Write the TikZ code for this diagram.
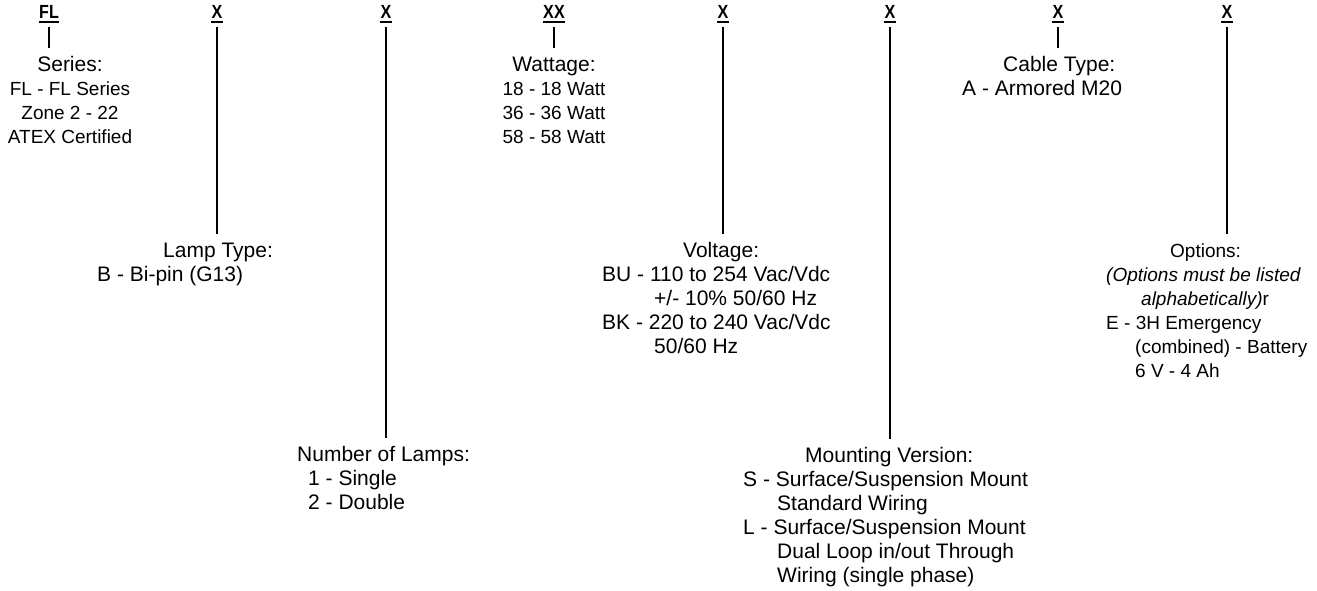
\documentclass[tikz,border=0pt]{standalone}
\usepackage{fontspec}
\setmainfont{Liberation Sans}
\usepackage{graphicx}
\newcommand\codetxt[1]{\scalebox{0.85}[1]{\bfseries #1}}
\newcommand\ttl[1]{{\fontsize{21}{24}\selectfont #1}}
\tikzset{
  code/.style={anchor=base, inner sep=0pt, font=\fontsize{19}{22}\selectfont},
  desc/.style={inner sep=0pt, font=\fontsize{21}{24}\selectfont},
  descsm/.style={inner sep=0pt, font=\fontsize{19}{24}\selectfont},
  uline/.style={line width=1.4pt},
  conn/.style={line width=1.2pt, shorten <=8.5pt, shorten >=6.5pt},
}
\begin{document}
\begin{tikzpicture}[x=1pt,y=-1pt]
\useasboundingbox (0,0) rectangle (1317,590);
% code headers
\node[code] (hFL) at (49,18.5) {\codetxt{FL}};
\node[code] (hA) at (217,18.5) {\codetxt{X}};
\node[code] (hB) at (386,18.5) {\codetxt{X}};
\node[code] (hC) at (554,18.5) {\codetxt{XX}};
\node[code] (hD) at (723,18.5) {\codetxt{X}};
\node[code] (hE) at (890,18.5) {\codetxt{X}};
\node[code] (hF) at (1058,18.5) {\codetxt{X}};
\node[code] (hG) at (1227,18.5) {\codetxt{X}};
\foreach \n in {hFL,hA,hB,hC,hD,hE,hF,hG}{
  \draw[uline] ([yshift=-3.5pt]\n.base west) -- ([yshift=-3.5pt]\n.base east);
}
% descriptions
\node[descsm, anchor=north, align=center] (series) at (70,54.2)
  {\strut\ttl{Series:}\\FL - FL Series\\Zone 2 - 22\\ATEX Certified};
\node[descsm, anchor=north, align=center] (watt) at (554,54.2)
  {\strut\ttl{Wattage:}\\18 - 18 Watt\\36 - 36 Watt\\58 - 58 Watt};
\node[desc, anchor=north west, align=left] (cable) at (962,54.2)
  {\strut\hspace*{41pt}Cable Type:\\A - Armored M20};
\node[desc, anchor=north west, align=left] (lamp) at (97,240.2)
  {\strut\hspace*{66pt}Lamp Type:\\B - Bi-pin (G13)};
\node[desc, anchor=north west, align=left] (volt) at (602,240.2)
  {\strut\hspace*{81pt}Voltage:\\BU - 110 to 254 Vac/Vdc\\\hspace*{52pt}+/- 10\% 50/60 Hz\\BK - 220 to 240 Vac/Vdc\\\hspace*{52pt}50/60 Hz};
\node[descsm, anchor=north west, align=left] (opt) at (1106,240.2)
  {\strut\hspace*{64pt}Options:\\\textit{(Options must be listed}\\\hspace*{35pt}\textit{alphabetically)}r\\E - 3H Emergency\\\hspace*{29pt}(combined) - Battery\\\hspace*{29pt}6 V - 4 Ah};
\node[desc, anchor=north west, align=left] (num) at (297,444.2)
  {\strut Number of Lamps:\\\hspace*{11pt}1 - Single\\\hspace*{11pt}2 - Double};
\node[desc, anchor=north west, align=left] (mount) at (743,445.2)
  {\strut\hspace*{62pt}Mounting Version:\\S - Surface/Suspension Mount\\\hspace*{34pt}Standard Wiring\\L - Surface/Suspension Mount\\\hspace*{34pt}Dual Loop in/out Through\\\hspace*{34pt}Wiring (single phase)};
% connectors
\draw[conn] (hFL.base) -- (hFL.base |- series.north);
\draw[conn] (hA.base) -- (hA.base |- lamp.north);
\draw[conn] (hB.base) -- (hB.base |- num.north);
\draw[conn] (hC.base) -- (hC.base |- watt.north);
\draw[conn] (hD.base) -- (hD.base |- volt.north);
\draw[conn] (hE.base) -- (hE.base |- mount.north);
\draw[conn] (hF.base) -- (hF.base |- cable.north);
\draw[conn] (hG.base) -- (hG.base |- opt.north);
\end{tikzpicture}
\end{document}
